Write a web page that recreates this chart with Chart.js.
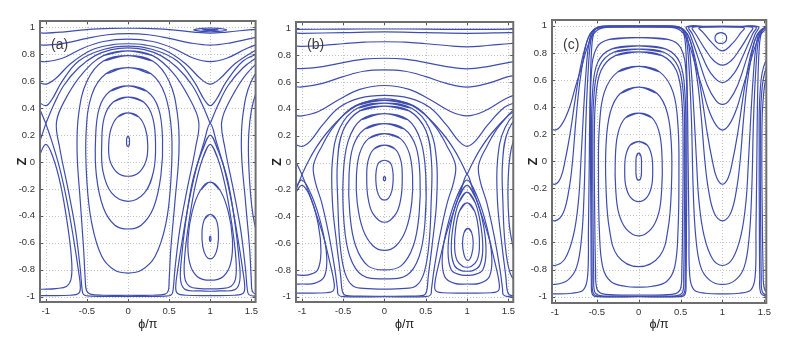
<!DOCTYPE html>
<html><head><meta charset="utf-8">
<script src="https://cdn.jsdelivr.net/npm/chart.js@4/dist/chart.umd.min.js"></script>
<style>
html,body{margin:0;padding:0;background:#fff;width:789px;height:344px;overflow:hidden}
canvas{position:absolute;top:0}
</style></head><body>
<canvas id="ca" width="262" height="344" style="left:0px"></canvas>
<canvas id="cb" width="264" height="344" style="left:255px"></canvas>
<canvas id="cc" width="264" height="344" style="left:511px"></canvas>
<script>
// ---------- axes ----------
const X_TICKS = [-1, -0.5, 0, 0.5, 1, 1.5];
const Y_TICKS = [-1, -0.8, -0.6, -0.4, -0.2, 0, 0.2, 0.4, 0.6, 0.8, 1];
const PANEL_LABELS = ['(a)', '(b)', '(c)'];
const X_TITLE = 'ϕ/π';
const Y_TITLE = 'Z';

// ---------- panel (a) ----------
const aO0 = [[0,0.19],[0.016,0.175],[0.017,0.15],[0.016,0.128],[0,0.115],[-0.016,0.128],[-0.017,0.15],[-0.016,0.175],[0,0.19]];
const aO1 = [[0,0.364],[0.13,0.335],[0.21,0.25],[0.24,0.13],[0.22,0.01],[0.13,-0.08],[0,-0.106],[-0.13,-0.08],[-0.22,0.01],[-0.235,0.13],[-0.205,0.25],[-0.125,0.335],[0,0.364]];
const aO2 = [[0,0.482],[0.19,0.445],[0.3,0.33],[0.335,0.13],[0.31,-0.07],[0.2,-0.23],[0,-0.292],[-0.2,-0.23],[-0.305,-0.07],[-0.32,0.13],[-0.29,0.33],[-0.18,0.445],[0,0.482]];
const aO3 = [[0,0.565],[0.23,0.525],[0.37,0.4],[0.42,0.17],[0.4,-0.1],[0.31,-0.34],[0.16,-0.47],[0,-0.498],[-0.16,-0.47],[-0.3,-0.34],[-0.385,-0.1],[-0.395,0.17],[-0.35,0.4],[-0.22,0.525],[0,0.565]];
const aO4 = [[0,0.70],[0.28,0.655],[0.45,0.5],[0.53,0.22],[0.52,-0.15],[0.46,-0.46],[0.33,-0.7],[0.16,-0.805],[0,-0.825],[-0.16,-0.805],[-0.32,-0.7],[-0.44,-0.46],[-0.5,-0.15],[-0.51,0.22],[-0.44,0.5],[-0.27,0.655],[0,0.70]];
const aO5 = [[0,0.79],[0.3,0.75],[0.5,0.6],[0.6,0.36],[0.62,0.08],[0.57,-0.3],[0.52,-0.65],[0.5,-0.88],[0.49,-0.955],[0.45,-0.982],[0.3,-0.99],[0,-0.99],[-0.3,-0.99],[-0.46,-0.982],[-0.505,-0.955],[-0.52,-0.88],[-0.54,-0.65],[-0.58,-0.3],[-0.62,0.08],[-0.6,0.36],[-0.5,0.6],[-0.3,0.75],[0,0.79]];
const aO6 = [[0,0.825],[0.3,0.79],[0.55,0.66],[0.74,0.48],[0.86,0.3],[0.82,0.1],[0.72,-0.2],[0.63,-0.5],[0.57,-0.8],[0.55,-0.94],[0.53,-0.985],[0.45,-0.997],[0,-0.998],[-0.45,-0.997],[-0.54,-0.985],[-0.56,-0.94],[-0.58,-0.8],[-0.64,-0.5],[-0.73,-0.2],[-0.83,0.1],[-0.87,0.3],[-0.75,0.48],[-0.55,0.66],[-0.3,0.79],[0,0.825]];
const aO4R = [[2,0.70],[1.72,0.655],[1.55,0.5],[1.47,0.22],[1.48,-0.15],[1.54,-0.46],[1.67,-0.7]];
const aO5R = [[2,0.79],[1.7,0.75],[1.5,0.6],[1.4,0.36],[1.38,0.08],[1.43,-0.3],[1.48,-0.65],[1.5,-0.88],[1.51,-0.955],[1.55,-0.982],[1.7,-0.99]];
const aO6R = [[2,0.825],[1.7,0.79],[1.45,0.66],[1.26,0.48],[1.14,0.3],[1.18,0.1],[1.28,-0.2],[1.37,-0.5],[1.43,-0.8],[1.45,-0.94],[1.47,-0.985],[1.55,-0.997],[1.7,-0.998]];
const aSepArch = [[-1,0.285],[-0.9,0.43],[-0.78,0.57],[-0.6,0.7],[-0.4,0.79],[-0.2,0.835],[0,0.848],[0.2,0.835],[0.4,0.79],[0.6,0.7],[0.78,0.57],[0.9,0.43],[1,0.285]];
const aSepArchR = [[1,0.285],[1.1,0.43],[1.22,0.57],[1.4,0.7],[1.6,0.79]];
const aSepArchL = [[-1,0.285],[-1.1,0.43]];
const aSepDrop = [[1,0.285],[0.92,0.14],[0.83,-0.05],[0.74,-0.3],[0.66,-0.58],[0.6,-0.82],[0.58,-0.93],[0.6,-0.975],[0.7,-0.99],[1,-0.993],[1.3,-0.99],[1.4,-0.975],[1.42,-0.93],[1.4,-0.82],[1.34,-0.58],[1.26,-0.3],[1.17,-0.05],[1.08,0.14],[1,0.285]];
const aSepDropL = [[-1,0.285],[-0.92,0.14],[-0.83,-0.05],[-0.74,-0.3],[-0.66,-0.58],[-0.6,-0.82],[-0.58,-0.93],[-0.6,-0.975],[-0.7,-0.99],[-1,-0.993],[-1.1,-0.992]];
const aSepDropL2 = [[-1,0.285],[-1.08,0.14]];
const aR0 = [[1,-0.55],[1.008,-0.56],[1.008,-0.58],[1,-0.59],[0.992,-0.58],[0.992,-0.56],[1,-0.55]];
const aR1 = [[1,-0.39],[1.07,-0.425],[1.1,-0.52],[1.09,-0.63],[1.05,-0.7],[1,-0.72],[0.95,-0.7],[0.91,-0.63],[0.9,-0.52],[0.93,-0.425],[1,-0.39]];
const aR2 = [[1,-0.15],[1.12,-0.21],[1.22,-0.37],[1.27,-0.57],[1.25,-0.75],[1.16,-0.85],[1,-0.878],[0.84,-0.85],[0.75,-0.75],[0.73,-0.57],[0.78,-0.37],[0.88,-0.21],[1,-0.15]];
const aR3 = [[1,0.13],[1.09,0.03],[1.18,-0.17],[1.26,-0.45],[1.31,-0.7],[1.31,-0.86],[1.25,-0.925],[1.12,-0.94],[1,-0.942],[0.88,-0.94],[0.75,-0.925],[0.69,-0.86],[0.69,-0.7],[0.74,-0.45],[0.82,-0.17],[0.91,0.03],[1,0.13]];
const aR4 = [[1,0.2],[1.1,0.08],[1.21,-0.13],[1.3,-0.45],[1.35,-0.72],[1.36,-0.88],[1.3,-0.948],[1.12,-0.958],[1,-0.96],[0.88,-0.958],[0.7,-0.948],[0.64,-0.88],[0.65,-0.72],[0.7,-0.45],[0.79,-0.13],[0.9,0.08],[1,0.2]];
const aR3L = [[-1.1,-0.945],[-1,-0.945],[-0.88,-0.94],[-0.75,-0.925],[-0.69,-0.86],[-0.69,-0.7],[-0.74,-0.45],[-0.82,-0.17],[-0.91,0.03],[-1,0.13],[-1.09,0.03]];
const aT1 = [[-1.1,0.96],[-1,0.957],[-0.8,0.965],[-0.5,0.983],[-0.2,0.992],[0,0.993],[0.2,0.992],[0.5,0.983],[0.8,0.965],[1,0.957],[1.2,0.965],[1.5,0.983],[1.6,0.987]];
const aE1 = [[0.8,0.981],[0.9,0.992],[1,0.995],[1.1,0.992],[1.2,0.981],[1.1,0.97],[1,0.967],[0.9,0.97],[0.8,0.981]];
const aE2 = [[0.9,0.981],[1,0.985],[1.1,0.981],[1,0.977],[0.9,0.981]];
const aT2 = [[-1.1,0.872],[-1,0.868],[-0.75,0.885],[-0.5,0.918],[-0.25,0.945],[0,0.953],[0.25,0.945],[0.5,0.918],[0.75,0.885],[1,0.868],[1.25,0.885],[1.5,0.918],[1.6,0.93]];
const aT3 = [[-1.1,0.75],[-1,0.745],[-0.8,0.77],[-0.55,0.845],[-0.3,0.895],[0,0.912],[0.3,0.895],[0.55,0.845],[0.8,0.77],[1,0.745],[1.2,0.77],[1.45,0.845],[1.6,0.88]];
const aT4 = [[-1.1,0.595],[-1,0.578],[-0.88,0.62],[-0.7,0.73],[-0.45,0.83],[-0.2,0.87],[0,0.878],[0.2,0.87],[0.45,0.83],[0.7,0.73],[0.88,0.62],[1,0.578],[1.12,0.62],[1.3,0.73],[1.55,0.83],[1.6,0.84]];
const aT5 = [[-1.1,0.45],[-1,0.418],[-0.93,0.46],[-0.8,0.6],[-0.6,0.75],[-0.3,0.835],[0,0.86],[0.3,0.835],[0.6,0.75],[0.8,0.6],[0.93,0.46],[1,0.418],[1.07,0.46],[1.2,0.6],[1.4,0.75],[1.6,0.81]];

// ---------- panel (b) ----------
const bO0 = [[0,-0.105],[0.012,-0.112],[0.012,-0.128],[0,-0.135],[-0.012,-0.128],[-0.012,-0.112],[0,-0.105]];
const bO1 = [[0,0.017],[0.07,0.0],[0.1,-0.06],[0.105,-0.13],[0.09,-0.21],[0.05,-0.265],[0,-0.28],[-0.05,-0.265],[-0.09,-0.21],[-0.105,-0.13],[-0.1,-0.06],[-0.07,0.0],[0,0.017]];
const bO2 = [[0,0.13],[0.13,0.1],[0.2,0.01],[0.215,-0.12],[0.2,-0.26],[0.14,-0.38],[0,-0.445],[-0.14,-0.38],[-0.2,-0.26],[-0.215,-0.12],[-0.2,0.01],[-0.13,0.1],[0,0.13]];
const bO3 = [[0,0.215],[0.19,0.18],[0.3,0.07],[0.34,-0.1],[0.33,-0.3],[0.26,-0.5],[0.14,-0.62],[0,-0.655],[-0.14,-0.62],[-0.26,-0.5],[-0.33,-0.3],[-0.34,-0.1],[-0.3,0.07],[-0.19,0.18],[0,0.215]];
const bO4 = [[0,0.29],[0.24,0.25],[0.38,0.12],[0.43,-0.1],[0.42,-0.38],[0.35,-0.62],[0.2,-0.77],[0,-0.80],[-0.2,-0.77],[-0.35,-0.62],[-0.42,-0.38],[-0.43,-0.1],[-0.38,0.12],[-0.24,0.25],[0,0.29]];
const bO5 = [[0,0.365],[0.28,0.32],[0.44,0.16],[0.5,-0.1],[0.49,-0.45],[0.42,-0.7],[0.27,-0.84],[0,-0.866],[-0.27,-0.84],[-0.42,-0.7],[-0.49,-0.45],[-0.5,-0.1],[-0.44,0.16],[-0.28,0.32],[0,0.365]];
const bO6 = [[0,0.42],[0.3,0.385],[0.5,0.24],[0.57,0.0],[0.565,-0.3],[0.54,-0.6],[0.48,-0.82],[0.38,-0.92],[0.2,-0.94],[0,-0.943],[-0.2,-0.94],[-0.38,-0.92],[-0.48,-0.82],[-0.54,-0.6],[-0.565,-0.3],[-0.57,0.0],[-0.5,0.24],[-0.3,0.385],[0,0.42]];
const bO7 = [[0,0.443],[0.33,0.405],[0.54,0.26],[0.63,0.02],[0.63,-0.3],[0.58,-0.6],[0.53,-0.85],[0.51,-0.96],[0.47,-0.99],[0.3,-0.995],[0,-0.996],[-0.3,-0.995],[-0.47,-0.99],[-0.51,-0.96],[-0.53,-0.85],[-0.58,-0.6],[-0.63,-0.3],[-0.63,0.02],[-0.54,0.26],[-0.33,0.405],[0,0.443]];
const bO8 = [[0,0.463],[0.35,0.425],[0.6,0.28],[0.76,0.12],[0.86,-0.02],[0.84,-0.14],[0.76,-0.3],[0.67,-0.55],[0.6,-0.8],[0.57,-0.94],[0.56,-0.985],[0.5,-0.999],[0,-1.0],[-0.5,-0.999],[-0.56,-0.985],[-0.57,-0.94],[-0.6,-0.8],[-0.67,-0.55],[-0.76,-0.3],[-0.84,-0.14],[-0.86,-0.02],[-0.76,0.12],[-0.6,0.28],[-0.35,0.425],[0,0.463]];
const bO5R = [[2,0.365],[1.72,0.32],[1.56,0.16],[1.5,-0.1],[1.51,-0.45],[1.58,-0.7]];
const bO6R = [[2,0.42],[1.7,0.385],[1.5,0.24],[1.43,0.0],[1.435,-0.3],[1.46,-0.6],[1.52,-0.82],[1.62,-0.92]];
const bO7R = [[2,0.443],[1.67,0.405],[1.46,0.26],[1.37,0.02],[1.37,-0.3],[1.42,-0.6],[1.47,-0.85],[1.49,-0.96],[1.53,-0.99],[1.7,-0.995]];
const bO8R = [[2,0.463],[1.65,0.425],[1.4,0.28],[1.24,0.12],[1.14,-0.02],[1.16,-0.14],[1.24,-0.3],[1.33,-0.55],[1.4,-0.8],[1.43,-0.94],[1.44,-0.985],[1.5,-0.999],[1.7,-1.0]];
const bSepArch = [[-1,-0.09],[-0.93,0.0],[-0.84,0.1],[-0.7,0.22],[-0.5,0.35],[-0.3,0.435],[0,0.475],[0.3,0.435],[0.5,0.35],[0.7,0.22],[0.84,0.1],[0.93,0.0],[1,-0.09]];
const bSepArchR = [[1,-0.09],[1.07,0.0],[1.16,0.1],[1.3,0.22],[1.5,0.35],[1.6,0.39]];
const bSepArchL = [[-1,-0.09],[-1.07,0.0],[-1.16,0.1]];
const bSepDrop = [[1,-0.09],[0.93,-0.2],[0.84,-0.36],[0.74,-0.55],[0.66,-0.75],[0.61,-0.9],[0.62,-0.955],[0.7,-0.97],[1,-0.973],[1.3,-0.97],[1.38,-0.955],[1.39,-0.9],[1.34,-0.75],[1.26,-0.55],[1.16,-0.36],[1.07,-0.2],[1,-0.09]];
const bSepDropL = [[-1,-0.09],[-0.93,-0.2],[-0.84,-0.36],[-0.74,-0.55],[-0.66,-0.75],[-0.61,-0.9],[-0.62,-0.955],[-0.7,-0.97],[-1,-0.973],[-1.1,-0.972]];
const bSepDropL2 = [[-1,-0.09],[-1.07,-0.2]];
const bR0 = [[1.01,-0.49],[1.055,-0.52],[1.075,-0.6],[1.055,-0.69],[1.01,-0.73],[0.965,-0.69],[0.945,-0.6],[0.965,-0.52],[1.01,-0.49]];
const bR1 = [[1,-0.30],[1.09,-0.36],[1.14,-0.5],[1.15,-0.64],[1.12,-0.73],[1.05,-0.775],[1,-0.78],[0.95,-0.775],[0.88,-0.73],[0.85,-0.64],[0.86,-0.5],[0.91,-0.36],[1,-0.3]];
const bR2 = [[1,-0.22],[1.1,-0.3],[1.17,-0.48],[1.19,-0.66],[1.15,-0.77],[1.07,-0.805],[1,-0.81],[0.93,-0.805],[0.85,-0.77],[0.81,-0.66],[0.83,-0.48],[0.9,-0.3],[1,-0.22]];
const bR3 = [[1,-0.17],[1.11,-0.27],[1.2,-0.47],[1.23,-0.67],[1.19,-0.8],[1.09,-0.835],[1,-0.84],[0.91,-0.835],[0.81,-0.8],[0.77,-0.67],[0.8,-0.47],[0.89,-0.27],[1,-0.17]];
const bR4 = [[1,-0.13],[1.12,-0.25],[1.24,-0.48],[1.3,-0.7],[1.27,-0.85],[1.15,-0.9],[1,-0.905],[0.85,-0.9],[0.73,-0.85],[0.7,-0.7],[0.76,-0.48],[0.88,-0.25],[1,-0.13]];
const bR3L = [[-1.1,-0.835],[-1,-0.84],[-0.91,-0.835],[-0.81,-0.8],[-0.77,-0.67],[-0.8,-0.47],[-0.89,-0.27],[-1,-0.17],[-1.1,-0.25]];
const bR4L = [[-1.1,-0.905],[-1,-0.905],[-0.85,-0.9],[-0.73,-0.85],[-0.7,-0.7],[-0.76,-0.48],[-0.88,-0.25],[-1,-0.13],[-1.1,-0.22]];
const bT1 = [[-1.1,0.992],[-0.5,0.994],[0,0.995],[0.5,0.994],[1,0.992],[1.6,0.994]];
const bT2 = [[-1.1,0.965],[-1,0.963],[-0.5,0.968],[0,0.973],[0.5,0.968],[1,0.963],[1.5,0.968],[1.6,0.969]];
const bT3 = [[-1.1,0.868],[-1,0.866],[-0.75,0.872],[-0.5,0.885],[-0.25,0.897],[0,0.9],[0.25,0.897],[0.5,0.885],[0.75,0.872],[1,0.862],[1.25,0.872],[1.5,0.885],[1.6,0.89]];
const bT4 = [[-1.1,0.702],[-1,0.7],[-0.75,0.715],[-0.5,0.745],[-0.25,0.77],[0,0.777],[0.25,0.77],[0.5,0.745],[0.75,0.715],[1,0.698],[1.25,0.715],[1.5,0.745],[1.6,0.752]];
const bT5 = [[-1.1,0.567],[-1,0.563],[-0.75,0.59],[-0.5,0.64],[-0.25,0.68],[0,0.69],[0.25,0.68],[0.5,0.64],[0.75,0.59],[1,0.562],[1.25,0.59],[1.5,0.64],[1.6,0.65]];
const bT6 = [[-1.1,0.352],[-1,0.347],[-0.8,0.38],[-0.55,0.47],[-0.3,0.545],[0,0.574],[0.3,0.545],[0.55,0.47],[0.8,0.38],[1,0.347],[1.2,0.38],[1.45,0.47],[1.6,0.51]];
const bT7 = [[-1.1,0.14],[-1,0.12],[-0.9,0.16],[-0.75,0.28],[-0.55,0.41],[-0.3,0.48],[0,0.5],[0.3,0.48],[0.55,0.41],[0.75,0.28],[0.9,0.16],[1,0.12],[1.1,0.16],[1.25,0.28],[1.45,0.41],[1.6,0.45]];

// ---------- panel (c) ----------
const cO0 = [[0,0.06],[0.028,0.035],[0.033,-0.04],[0.028,-0.115],[0,-0.14],[-0.028,-0.115],[-0.033,-0.04],[-0.028,0.035],[0,0.06]];
const cO1 = [[0,0.145],[0.1,0.12],[0.155,0.04],[0.167,-0.07],[0.155,-0.18],[0.1,-0.265],[0,-0.298],[-0.1,-0.265],[-0.155,-0.18],[-0.167,-0.07],[-0.155,0.04],[-0.1,0.12],[0,0.145]];
const cO2 = [[0,0.355],[0.16,0.32],[0.25,0.2],[0.28,0.0],[0.275,-0.2],[0.24,-0.38],[0.15,-0.5],[0,-0.552],[-0.15,-0.5],[-0.24,-0.38],[-0.275,-0.2],[-0.28,0],[-0.25,0.2],[-0.16,0.32],[0,0.355]];
const cO3 = [[0,0.547],[0.22,0.5],[0.34,0.36],[0.39,0.12],[0.39,-0.2],[0.35,-0.5],[0.25,-0.7],[0,-0.778],[-0.25,-0.7],[-0.35,-0.5],[-0.39,-0.2],[-0.39,0.12],[-0.34,0.36],[-0.22,0.5],[0,0.547]];
const cO4 = [[0,0.70],[0.25,0.66],[0.41,0.51],[0.47,0.25],[0.48,-0.1],[0.47,-0.5],[0.43,-0.78],[0.33,-0.89],[0.15,-0.925],[0,-0.93],[-0.15,-0.925],[-0.33,-0.89],[-0.43,-0.78],[-0.47,-0.5],[-0.48,-0.1],[-0.47,0.25],[-0.41,0.51],[-0.25,0.66],[0,0.70]];
const cO5 = [[0,0.808],[0.28,0.78],[0.45,0.67],[0.515,0.45],[0.53,0.1],[0.525,-0.4],[0.515,-0.8],[0.5,-0.94],[0.44,-0.978],[0.3,-0.986],[0,-0.988],[-0.3,-0.986],[-0.44,-0.978],[-0.5,-0.94],[-0.515,-0.8],[-0.525,-0.4],[-0.53,0.1],[-0.515,0.45],[-0.45,0.67],[-0.28,0.78],[0,0.808]];
const cO6 = [[0,0.828],[0.3,0.805],[0.47,0.7],[0.535,0.48],[0.548,0.1],[0.545,-0.4],[0.537,-0.85],[0.525,-0.965],[0.46,-0.992],[0.3,-0.995],[0,-0.996],[-0.3,-0.995],[-0.46,-0.992],[-0.525,-0.965],[-0.537,-0.85],[-0.545,-0.4],[-0.548,0.1],[-0.535,0.48],[-0.47,0.7],[-0.3,0.805],[0,0.828]];
const cO7 = [[0,0.852],[0.32,0.83],[0.49,0.73],[0.552,0.5],[0.562,0.1],[0.56,-0.4],[0.555,-0.85],[0.545,-0.97],[0.48,-0.996],[0,-0.999],[-0.48,-0.996],[-0.545,-0.97],[-0.555,-0.85],[-0.56,-0.4],[-0.562,0.1],[-0.552,0.5],[-0.49,0.73],[-0.32,0.83],[0,0.852]];
const cO8 = [[0,0.913],[0.35,0.9],[0.5,0.84],[0.565,0.65],[0.575,0.2],[0.57,-0.5],[0.565,-0.9],[0.555,-0.98],[0.5,-1.0],[0,-1.0],[-0.5,-1.0],[-0.555,-0.98],[-0.565,-0.9],[-0.57,-0.5],[-0.575,0.2],[-0.565,0.65],[-0.5,0.84],[-0.35,0.9],[0,0.913]];
const cO5R = [[1.72,0.78],[1.55,0.67],[1.485,0.45],[1.47,0.1],[1.475,-0.4],[1.485,-0.8],[1.5,-0.94],[1.56,-0.978],[1.7,-0.986]];
const cO6R = [[1.7,0.805],[1.53,0.7],[1.465,0.48],[1.452,0.1],[1.455,-0.4],[1.463,-0.85],[1.475,-0.965],[1.54,-0.992],[1.7,-0.995]];
const cO7R = [[1.68,0.83],[1.51,0.73],[1.448,0.5],[1.438,0.1],[1.44,-0.4],[1.445,-0.85],[1.455,-0.97],[1.52,-0.996],[1.7,-0.999]];
const cU1 = [[-1.1,0.27],[-1,0.23],[-0.92,0.27],[-0.83,0.39],[-0.75,0.56],[-0.68,0.70],[-0.62,0.83],[-0.56,0.92],[-0.5,0.965],[-0.43,0.985],[-0.3,0.99],[0,0.991],[0.3,0.99],[0.43,0.985],[0.5,0.965],[0.56,0.92],[0.62,0.83],[0.68,0.70],[0.75,0.56],[0.83,0.39],[0.92,0.27],[1,0.23],[1.08,0.27],[1.17,0.39],[1.25,0.56],[1.32,0.70],[1.38,0.83],[1.44,0.92],[1.5,0.965],[1.57,0.985]];
const cU2 = [[-1.1,-0.14],[-1,-0.17],[-0.93,-0.12],[-0.88,0.0],[-0.82,0.2],[-0.76,0.45],[-0.7,0.68],[-0.64,0.84],[-0.58,0.94],[-0.52,0.975],[-0.44,0.988],[-0.3,0.992],[0,0.993],[0.3,0.992],[0.44,0.988],[0.52,0.975],[0.58,0.94],[0.64,0.84],[0.7,0.68],[0.76,0.45],[0.82,0.2],[0.88,0.0],[0.93,-0.12],[1,-0.17],[1.07,-0.12],[1.12,0],[1.18,0.2],[1.24,0.45],[1.3,0.68],[1.36,0.84],[1.42,0.94],[1.48,0.975],[1.56,0.988]];
const cU3 = [[-1.1,-0.41],[-1,-0.44],[-0.9,-0.38],[-0.83,-0.2],[-0.79,0.0],[-0.75,0.3],[-0.71,0.55],[-0.66,0.76],[-0.61,0.9],[-0.55,0.965],[-0.47,0.988],[-0.3,0.994],[0,0.995],[0.3,0.994],[0.47,0.988],[0.55,0.965],[0.61,0.9],[0.66,0.76],[0.71,0.55],[0.75,0.3],[0.79,0.0],[0.83,-0.2],[0.9,-0.38],[1,-0.44],[1.1,-0.38],[1.17,-0.2],[1.21,0.0],[1.25,0.3],[1.29,0.55],[1.34,0.76],[1.39,0.9],[1.45,0.965],[1.53,0.988]];
const cU4 = [[-1.1,-0.75],[-1,-0.77],[-0.88,-0.72],[-0.78,-0.55],[-0.72,-0.3],[-0.69,0.0],[-0.66,0.35],[-0.63,0.65],[-0.6,0.85],[-0.56,0.95],[-0.5,0.985],[-0.3,0.996],[0,0.997],[0.3,0.996],[0.5,0.985],[0.56,0.95],[0.6,0.85],[0.63,0.65],[0.66,0.35],[0.69,0.0],[0.72,-0.3],[0.78,-0.55],[0.88,-0.72],[1,-0.77],[1.12,-0.72],[1.22,-0.55],[1.28,-0.3],[1.31,0.0],[1.34,0.35],[1.37,0.65],[1.4,0.85],[1.44,0.95],[1.5,0.985],[1.6,0.996]];
const cU5 = [[-1.1,-0.9],[-1,-0.91],[-0.85,-0.88],[-0.74,-0.78],[-0.68,-0.55],[-0.65,-0.2],[-0.63,0.3],[-0.6,0.7],[-0.57,0.9],[-0.53,0.97],[-0.47,0.992],[-0.3,0.998],[0,0.998],[0.3,0.998],[0.47,0.992],[0.53,0.97],[0.57,0.9],[0.6,0.7],[0.63,0.3],[0.65,-0.2],[0.68,-0.55],[0.74,-0.78],[0.85,-0.88],[1,-0.91],[1.15,-0.88],[1.26,-0.78],[1.32,-0.55],[1.35,-0.2],[1.37,0.3],[1.4,0.7],[1.43,0.9],[1.47,0.97],[1.53,0.992]];
const cU6 = [[-1.1,-0.978],[-1,-0.98],[-0.8,-0.975],[-0.66,-0.95],[-0.61,-0.85],[-0.6,-0.5],[-0.59,0],[-0.58,0.5],[-0.56,0.85],[-0.53,0.96],[-0.48,0.993],[-0.3,0.999],[0,0.999],[0.3,0.999],[0.48,0.993],[0.53,0.96],[0.56,0.85],[0.58,0.5],[0.59,0],[0.6,-0.5],[0.61,-0.85],[0.66,-0.95],[0.8,-0.975],[1,-0.98],[1.2,-0.975],[1.34,-0.95],[1.39,-0.85],[1.4,-0.5],[1.41,0],[1.42,0.5],[1.44,0.85],[1.47,0.96],[1.52,0.993]];
const cV0 = [[0.98,0.95],[1.03,0.94],[1.05,0.91],[1.03,0.88],[0.98,0.87],[0.93,0.88],[0.91,0.91],[0.93,0.94],[0.98,0.95]];
const cV1 = [[0.72,0.985],[0.86,0.99],[1,0.992],[1.14,0.99],[1.26,0.985],[1.22,0.95],[1.12,0.87],[1,0.815],[0.88,0.87],[0.77,0.95],[0.72,0.985]];
const cV2 = [[0.64,0.988],[0.8,0.993],[1,0.995],[1.2,0.993],[1.36,0.988],[1.32,0.94],[1.2,0.82],[1.1,0.74],[1,0.71],[0.9,0.74],[0.8,0.82],[0.68,0.94],[0.64,0.988]];
const cV3 = [[0.6,0.99],[0.8,0.995],[1,0.996],[1.2,0.995],[1.4,0.99],[1.36,0.94],[1.26,0.8],[1.14,0.65],[1,0.58],[0.86,0.65],[0.74,0.8],[0.64,0.94],[0.6,0.99]];
const cV4 = [[0.57,0.992],[0.8,0.996],[1,0.997],[1.2,0.996],[1.43,0.992],[1.39,0.94],[1.3,0.78],[1.18,0.56],[1.08,0.45],[1,0.42],[0.92,0.45],[0.82,0.56],[0.7,0.78],[0.61,0.94],[0.57,0.992]];

const PANEL_A = [aO0,aO1,aO2,aO3,aO4,aO5,aO6,aO4R,aO5R,aO6R,aSepArch,aSepArchR,aSepArchL,aSepDrop,aSepDropL,aSepDropL2,aR0,aR1,aR2,aR3,aR4,aR3L,aT1,aE1,aE2,aT2,aT3,aT4,aT5];
const PANEL_B = [bO0,bO1,bO2,bO3,bO4,bO5,bO6,bO7,bO8,bO5R,bO6R,bO7R,bO8R,bSepArch,bSepArchR,bSepArchL,bSepDrop,bSepDropL,bSepDropL2,bR0,bR1,bR2,bR3,bR4,bR3L,bR4L,bT1,bT2,bT3,bT4,bT5,bT6,bT7];
const PANEL_C = [cO0,cO1,cO2,cO3,cO4,cO5,cO6,cO7,cO8,cO5R,cO6R,cO7R,cU1,cU2,cU3,cU4,cU5,cU6,cV0,cV1,cV2,cV3,cV4];

// ---------- drawing ----------
const LINE = '#3f4db2';
const FONT = 'Liberation Sans, Arial, DejaVu Sans, sans-serif';

function toDataset(pts) {
  const n = pts.length;
  let seq = pts;
  const closed = n > 3 && pts[0][0] === pts[n-1][0] && pts[0][1] === pts[n-1][1];
  if (closed) seq = [pts[n-2]].concat(pts, [pts[1]]);
  return {data: seq.map(p => ({x: p[0], y: p[1]})), showLine: true, pointRadius: 0,
          borderColor: LINE, borderWidth: 1.2, tension: 0.38, fill: false};
}

const framePlugin = {
  id: 'frame',
  beforeDatasetsDraw(chart) {
    const {ctx, chartArea: a, scales: {x, y}} = chart;
    ctx.save();
    ctx.strokeStyle = '#c4c4c4'; ctx.lineWidth = 1; ctx.setLineDash([1, 2]);
    ctx.beginPath();
    X_TICKS.forEach(v => { const p = Math.round(x.getPixelForValue(v)) + 0.5; ctx.moveTo(p, a.top); ctx.lineTo(p, a.bottom); });
    Y_TICKS.forEach(v => { const p = Math.round(y.getPixelForValue(v)) + 0.5; ctx.moveTo(a.left, p); ctx.lineTo(a.right, p); });
    ctx.stroke();
    ctx.restore();
  },
  afterDatasetsDraw(chart, args, opts) {
    const {ctx, chartArea: a, scales: {x, y}} = chart;
    ctx.save();
    ctx.strokeStyle = '#555'; ctx.lineWidth = 1;
    ctx.beginPath();
    X_TICKS.forEach(v => { const p = Math.round(x.getPixelForValue(v)) + 0.5; ctx.moveTo(p, a.top); ctx.lineTo(p, a.top + 3); ctx.moveTo(p, a.bottom); ctx.lineTo(p, a.bottom - 3); });
    Y_TICKS.forEach(v => { const p = Math.round(y.getPixelForValue(v)) + 0.5; ctx.moveTo(a.left, p); ctx.lineTo(a.left + 3, p); ctx.moveTo(a.right, p); ctx.lineTo(a.right - 3, p); });
    ctx.stroke();
    ctx.strokeStyle = '#6e6e6e'; ctx.lineWidth = 2;
    ctx.strokeRect(a.left, a.top, a.right - a.left, a.bottom - a.top);
    ctx.fillStyle = '#3c3c3c';
    ctx.font = '14px ' + FONT;
    ctx.textBaseline = 'middle'; ctx.textAlign = 'left';
    ctx.fillText(opts.label, a.left + 11, 45.5);
    ctx.restore();
  }
};

function makePanel(id, curves, xr, yr, yW, xH, padTop, padRight, zPad, label) {
  new Chart(document.getElementById(id), {
    type: 'scatter',
    data: {datasets: curves.map(toDataset)},
    options: {
      responsive: false, animation: false, events: [],
      layout: {padding: {top: padTop, right: padRight, left: 0, bottom: 0}},
      elements: {line: {capBezierPoints: false}},
      plugins: {legend: {display: false}, tooltip: {enabled: false}, frame: {label}},
      scales: {
        x: {type: 'linear', min: xr[0], max: xr[1],
            afterBuildTicks: s => { s.ticks = X_TICKS.map(v => ({value: v})); },
            afterFit: s => { s.height = xH; },
            grid: {display: false, drawTicks: false}, border: {display: false},
            ticks: {autoSkip: false, maxRotation: 0, padding: 4, color: '#333', font: {family: FONT, size: 9.5}, callback: v => String(v)},
            title: {display: true, text: X_TITLE, color: '#222', font: {family: FONT, size: 12.5}, padding: {top: 0, bottom: 12}}},
        y: {type: 'linear', min: yr[0], max: yr[1],
            afterBuildTicks: s => { s.ticks = Y_TICKS.map(v => ({value: v})); },
            afterFit: s => { s.width = yW; },
            grid: {display: false, drawTicks: false}, border: {display: false},
            ticks: {autoSkip: false, padding: 5, color: '#333', font: {family: FONT, size: 9.5}, callback: v => String(v)},
            title: {display: true, text: Y_TITLE, color: '#222', font: {family: FONT, size: 12.5, weight: 'bold'}, padding: {top: 15, bottom: 0}}}
      }
    },
    plugins: [framePlugin]
  });
}

makePanel('ca', PANEL_A, [-1.071, 1.552], [-1.04, 1.047], 40, 42, 21, 4, 15, PANEL_LABELS[0]);
makePanel('cb', PANEL_B, [-1.072, 1.56], [-1.039, 1.047], 41, 42, 22, 4, 15, PANEL_LABELS[1]);
makePanel('cc', PANEL_C, [-1.035, 1.523], [-1.047, 1.043], 41, 41, 20, 3, 13, PANEL_LABELS[2]);
</script>
</body></html>
